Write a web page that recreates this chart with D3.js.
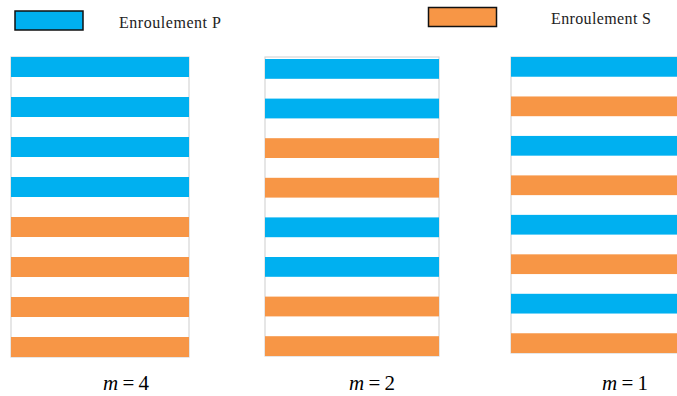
<!DOCTYPE html>
<html>
  <head>
    <meta charset="utf-8">
    <title>Enroulements P / S</title>
    <script type="text/javascript" src="https://d3js.org/d3.v7.min.js"></script>
    <style>
      body { margin: 0; background: #fff; }
      text { font-family: "Liberation Serif", "DejaVu Serif", serif; }
    </style>
  </head>
  <body>
    <script type="text/javascript">
    var w = 677;
    var h = 396;

    // data
    var windings = ["P", "S"];
    var windingNames = ["Enroulement P", "Enroulement S"];
    var mValues = [4, 2, 1];
    var stripes4 = ["P", "P", "P", "P", "S", "S", "S", "S"];
    var stripes2 = ["P", "P", "S", "S", "P", "P", "S", "S"];
    var stripes1 = ["P", "S", "P", "S", "P", "S", "P", "S"];
    var stripeSets = [stripes4, stripes2, stripes1];

    var color = d3.scaleOrdinal()
                  .domain(windings)
                  .range(["#00b0f0", "#f79646"]);

    // layout of the three panels (left, right, frame top, bars top/bottom, label centre)
    var panels = [
      {x0: 11,  x1: 189, top: 57, y0: 57, y1: 357, labelX: 126},
      {x0: 265, x1: 439, top: 57, y0: 59, y1: 356, labelX: 372},
      {x0: 511, x1: 690, top: 57, y0: 57, y1: 353, labelX: 625}
    ];

    var svg = d3.select("body")
                .append("svg")
                .attr("width", w)
                .attr("height", h);

    panels.forEach(function(p, i) {
      var stripes = stripeSets[i];
      var yScale = d3.scaleBand()
                     .domain(d3.range(stripes.length))
                     .range([p.y0, p.y1])
                     .paddingInner(0.5)
                     .paddingOuter(0);

      var g = svg.append("g");

      // light frame
      g.append("rect")
       .attr("x", p.x0)
       .attr("y", p.top)
       .attr("width", p.x1 - p.x0)
       .attr("height", p.y1 - p.top)
       .attr("fill", "none")
       .attr("stroke", "#d6d6d6")
       .attr("stroke-width", 1.2);

      g.selectAll("rect.bar")
       .data(stripes)
       .enter()
       .append("rect")
       .attr("class", "bar")
       .attr("x", p.x0)
       .attr("y", function(d, j) { return yScale(j); })
       .attr("width", p.x1 - p.x0)
       .attr("height", yScale.bandwidth())
       .attr("fill", function(d) { return color(d); });

      // label  m = ...
      var t = svg.append("text")
                 .attr("x", p.labelX)
                 .attr("y", 390)
                 .attr("text-anchor", "middle")
                 .attr("font-size", "21px")
                 .attr("fill", "#000");
      t.append("tspan").attr("font-style", "italic").text("m");
      t.append("tspan").text("\u2009=\u2009" + mValues[i]);
    });

    // legend
    var legend = [
      {x: 15, y: 11, tx: 119, ty: 28, len: 102},
      {x: 428.5, y: 7.5, tx: 551, ty: 24, len: 100}
    ];
    var lg = svg.selectAll("g.legend")
                .data(windings)
                .enter()
                .append("g")
                .attr("class", "legend");
    lg.append("rect")
      .attr("x", function(d, i) { return legend[i].x; })
      .attr("y", function(d, i) { return legend[i].y; })
      .attr("width", 68)
      .attr("height", 19)
      .attr("fill", function(d) { return color(d); })
      .attr("stroke", "#111")
      .attr("stroke-width", 1.5);
    lg.append("text")
      .attr("x", function(d, i) { return legend[i].tx; })
      .attr("y", function(d, i) { return legend[i].ty; })
      .attr("font-size", "16px")
      .attr("textLength", function(d, i) { return legend[i].len; })
      .attr("lengthAdjust", "spacing")
      .attr("fill", "#222")
      .text(function(d, i) { return windingNames[i]; });
    </script>
  </body>
</html>
